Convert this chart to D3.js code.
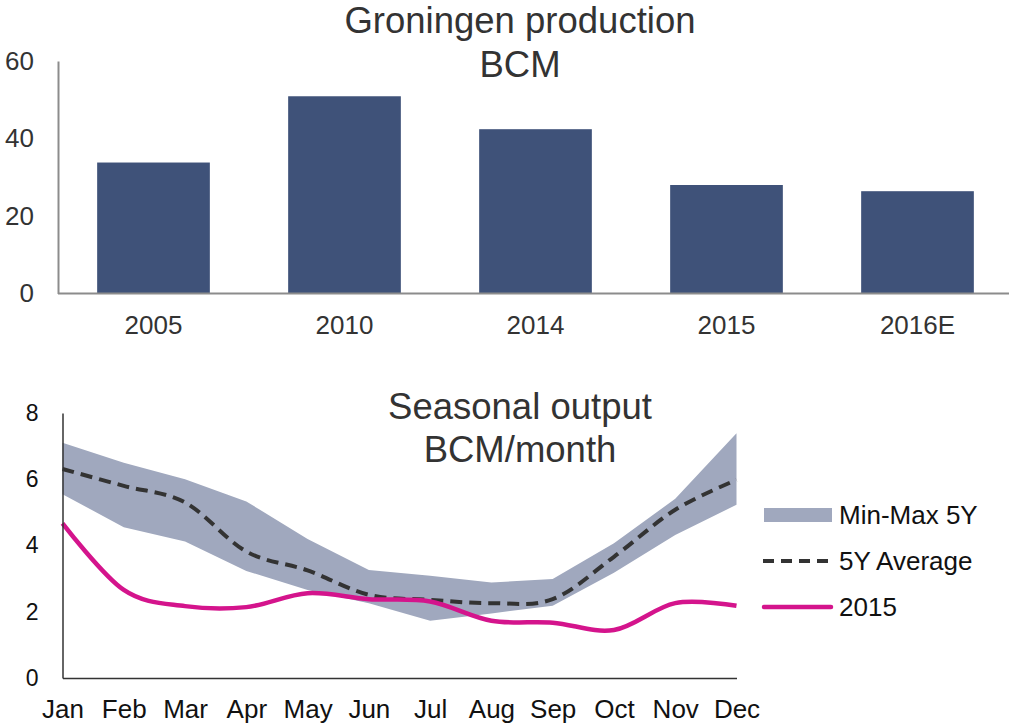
<!DOCTYPE html>
<html>
<head>
<meta charset="utf-8">
<script src="https://cdn.jsdelivr.net/npm/d3@7"></script>
<style>
  body { margin: 0; background: #fff; }
  text { font-family: "Liberation Sans", Arial, sans-serif; }
</style>
</head>
<body>
<svg id="chart" width="1009" height="724"></svg>
<script>
// top chart data
const years = ["2005", "2010", "2014", "2015", "2016E"]
const production = [33.8, 50.9, 42.4, 28.0, 26.4]
const prodTicks = [0, 20, 40, 60]

// bottom chart data
const months = ["Jan","Feb","Mar","Apr","May","Jun","Jul","Aug","Sep","Oct","Nov","Dec"]
const max5y = [7.1, 6.5, 6.0, 5.33, 4.2, 3.26, 3.09, 2.88, 2.99, 4.07, 5.41, 7.39]
const min5y = [5.55, 4.55, 4.12, 3.23, 2.66, 2.26, 1.73, 1.95, 2.18, 3.18, 4.32, 5.23]
const avg5y = [6.31, 5.8, 5.3, 3.82, 3.25, 2.51, 2.36, 2.26, 2.38, 3.66, 5.08, 5.98]
const y2015 = [4.67, 2.66, 2.17, 2.14, 2.56, 2.38, 2.31, 1.73, 1.67, 1.45, 2.26, 2.18]
const seasonTicks = [0, 2, 4, 6, 8]
const legendLabels = ["Min-Max 5Y", "5Y Average", "2015"]

const svg = d3.select("#chart")

// ---------- top: Groningen production ----------
const x1 = d3.scaleBand().domain(years).range([58, 1013]).paddingInner(0.41).paddingOuter(0.205)
const y1 = d3.scaleLinear().domain([0, 60]).range([293.5, 61])

svg.append("g")
  .selectAll("rect")
  .data(years)
  .enter()
  .append("rect")
  .attr("x", d => x1(d))
  .attr("width", x1.bandwidth())
  .attr("y", (d, i) => y1(production[i]))
  .attr("height", (d, i) => y1(0) - y1(production[i]))
  .attr("fill", "#3f5279")

const yAxis1 = svg.append("g")
  .attr("transform", "translate(58,0)")
  .call(d3.axisLeft(y1).tickValues(prodTicks).tickSize(0).tickPadding(24))
yAxis1.select(".domain").attr("stroke", "#8c8c8c").attr("stroke-width", 2)
yAxis1.selectAll("text").attr("font-size", 26).attr("fill", "#333")

svg.append("line")
  .attr("x1", 58).attr("x2", 1009)
  .attr("y1", y1(0)).attr("y2", y1(0))
  .attr("stroke", "#8c8c8c").attr("stroke-width", 2)

svg.append("g")
  .selectAll("text")
  .data(years)
  .enter()
  .append("text")
  .attr("x", d => x1(d) + x1.bandwidth() / 2)
  .attr("y", 334)
  .attr("text-anchor", "middle")
  .attr("font-size", 26)
  .attr("fill", "#333")
  .text(d => d)

svg.append("text").attr("x", 520).attr("y", 33).attr("text-anchor", "middle")
  .attr("font-size", 36.5).attr("fill", "#333").text("Groningen production")
svg.append("text").attr("x", 520).attr("y", 77).attr("text-anchor", "middle")
  .attr("font-size", 36.5).attr("fill", "#333").text("BCM")

// ---------- bottom: seasonal output ----------
const x2 = d3.scalePoint().domain(months).range([62.5, 736.5])
const y2 = d3.scaleLinear().domain([0, 8]).range([678, 413])

const band = d3.area()
  .x((d, i) => x2(months[i]))
  .y0((d, i) => y2(min5y[i]))
  .y1((d, i) => y2(max5y[i]))

svg.append("path")
  .datum(months)
  .attr("d", band)
  .attr("fill", "#a0a8be")

const smooth = d3.line()
  .x((d, i) => x2(months[i]))
  .y(d => y2(d))
  .curve(d3.curveCatmullRom.alpha(0))

svg.append("path")
  .datum(avg5y)
  .attr("d", smooth)
  .attr("fill", "none")
  .attr("stroke", "#333")
  .attr("stroke-width", 4)
  .attr("stroke-dasharray", "12,7")

svg.append("path")
  .datum(y2015)
  .attr("d", smooth)
  .attr("fill", "none")
  .attr("stroke", "#d4148c")
  .attr("stroke-width", 4.5)

const yAxis2 = svg.append("g")
  .attr("transform", "translate(62.5,0)")
  .call(d3.axisLeft(y2).tickValues(seasonTicks).tickSize(0).tickPadding(24))
yAxis2.select(".domain").attr("stroke", "#333").attr("stroke-width", 1.5)
yAxis2.selectAll("text").attr("font-size", 23).attr("fill", "#111")

const xAxis2 = svg.append("g")
  .attr("transform", "translate(0," + y2(0) + ")")
  .call(d3.axisBottom(x2).tickSize(0).tickPadding(22))
xAxis2.select(".domain").attr("stroke", "#333").attr("stroke-width", 1.5)
xAxis2.selectAll("text").attr("font-size", 26).attr("fill", "#111")

svg.append("text").attr("x", 520).attr("y", 419).attr("text-anchor", "middle")
  .attr("font-size", 36.5).attr("fill", "#333").text("Seasonal output")
svg.append("text").attr("x", 520).attr("y", 462).attr("text-anchor", "middle")
  .attr("font-size", 36.5).attr("fill", "#333").text("BCM/month")

// legend
const legend = svg.append("g")
const legY = [515, 561, 607]
legend.append("rect").attr("x", 764).attr("y", legY[0] - 7).attr("width", 68).attr("height", 14)
  .attr("fill", "#a0a8be")
legend.append("line").attr("x1", 763).attr("x2", 829).attr("y1", legY[1]).attr("y2", legY[1])
  .attr("stroke", "#333").attr("stroke-width", 4).attr("stroke-dasharray", "11,7")
legend.append("line").attr("x1", 764).attr("x2", 831).attr("y1", legY[2]).attr("y2", legY[2])
  .attr("stroke", "#d4148c").attr("stroke-width", 4.5).attr("stroke-linecap", "round")
legend.selectAll("text.leg")
  .data(legendLabels)
  .enter()
  .append("text")
  .attr("class", "leg")
  .attr("x", 839)
  .attr("y", (d, i) => legY[i])
  .attr("dy", "0.35em")
  .attr("font-size", 26)
  .attr("fill", "#111")
  .text(d => d)
</script>
</body>
</html>
